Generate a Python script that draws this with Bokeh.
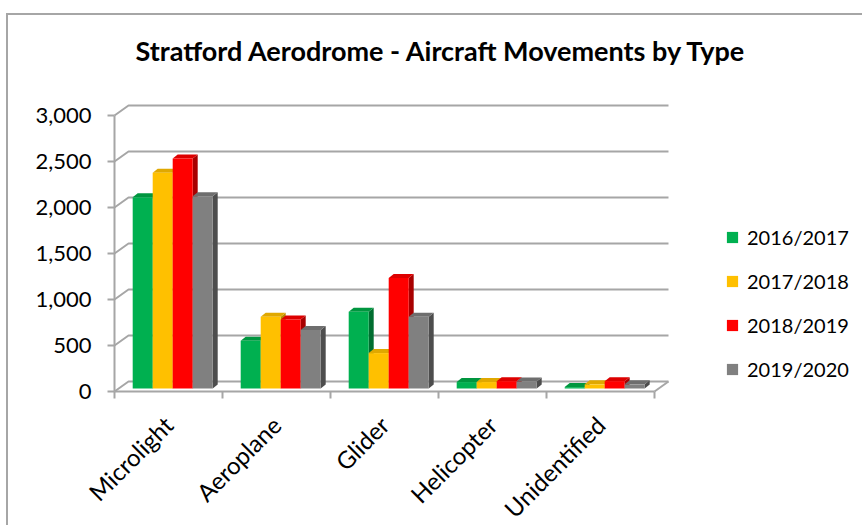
import math
from bokeh.plotting import figure
from bokeh.models import (Range1d, FixedTicker, NumeralTickFormatter, Legend,
                          LegendItem, Label, ColumnDataSource)
from bokeh.embed import file_html
from bokeh.resources import INLINE

# ---------------- data ----------------
categories = ["Microlight", "Aeroplane", "Glider", "Helicopter", "Unidentified"]
series_names = ["2016/2017", "2017/2018", "2018/2019", "2019/2020"]
v_2016_2017 = [2080, 520, 835, 70, 15]
v_2017_2018 = [2345, 780, 385, 70, 45]
v_2018_2019 = [2500, 750, 1200, 80, 80]
v_2019_2020 = [2090, 635, 780, 75, 45]
series_values = [v_2016_2017, v_2017_2018, v_2018_2019, v_2019_2020]
y_ticks = [0, 500, 1000, 1500, 2000, 2500, 3000]
title_text = "Stratford Aerodrome - Aircraft Movements by Type"

# ---------------- styles ----------------
front_colors = ["#00B050", "#FFC000", "#FF0000", "#808080"]
top_colors = ["#00963F", "#E0A800", "#DD0000", "#6E6E6E"]
side_colors = ["#006E30", "#B88A00", "#A80000", "#4D4D4D"]
grid_color = "#A6A6A6"
FONT = "Lato"

W, H = 856, 512
ZERO_X, ZERO_Y = 106, 376             # canvas px of the plot origin
PX_CAT = 108.0                        # px per category
PX_UNIT = 0.092                       # px per movement
WALL_DX_PX, WALL_DY_PX = 14.0, 10.0
DX = WALL_DX_PX / PX_CAT
DY = WALL_DY_PX / PX_UNIT
X_START = -ZERO_X / PX_CAT
X_END = (W - ZERO_X) / PX_CAT
Y_START = -(H - ZERO_Y) / PX_UNIT
Y_END = ZERO_Y / PX_UNIT

p = figure(width=W, height=H, x_range=Range1d(X_START, X_END),
           y_range=Range1d(Y_START, Y_END),
           min_border_left=0, min_border_right=0,
           min_border_top=0, min_border_bottom=0,
           output_backend="svg", toolbar_location=None, outline_line_color=None,
           background_fill_color="white", border_fill_color="white")
p.margin = (13, 0, 0, 6)
p.styles = {"border-top": "2px solid #A6A6A6", "border-left": "2px solid #A6A6A6"}
p.xgrid.visible = False
p.ygrid.visible = False

ncat = len(categories)
# ---- walls / grid ----
gx, gy = [], []
for t in y_ticks:
    gx.append([0, DX, ncat + DX])
    gy.append([t, t + DY, t + DY])
gx.append([ncat, ncat + DX])
gy.append([0, DY])
p.multi_line(gx, gy, line_color=grid_color, line_width=2)

# ---- 3D bars ----
nser = len(series_names)
BW = 20.0 / PX_CAT
G0 = (1 - nser * BW) / 2
FX, FY = 0.3 * DX, 0.3 * DY
BDX, BDY = 5.0 / PX_CAT, 4.0 / PX_UNIT
legend_items = []
for s in range(nser):
    vals = series_values[s]
    x0 = [c + G0 + s * BW + FX for c in range(ncat)]
    x1 = [x + BW for x in x0]
    top = [v + FY for v in vals]
    side_xs = [[a, a + BDX, a + BDX, a] for a in x1]
    side_ys = [[FY, FY + BDY, t + BDY, t] for t in top]
    top_xs = [[a, a + BDX, b + BDX, b] for a, b in zip(x0, x1)]
    top_ys = [[t, t + BDY, t + BDY, t] for t in top]
    p.patches(side_xs, side_ys, fill_color=side_colors[s], line_color=None)
    p.patches(top_xs, top_ys, fill_color=top_colors[s], line_color=None)
    src = ColumnDataSource(dict(x=[(a + b) / 2 for a, b in zip(x0, x1)], top=top,
                                bottom=[FY] * ncat))
    r = p.vbar(x="x", top="top", bottom="bottom", width=BW, source=src,
               fill_color=front_colors[s], line_color=None)
    legend_items.append(LegendItem(label=series_names[s], renderers=[r]))

# ---- axes ----
yax = p.yaxis[0]
yax.ticker = FixedTicker(ticks=y_ticks)
yax.formatter = NumeralTickFormatter(format="0,0")
yax.bounds = (0, 3000)
yax.fixed_location = 0
yax.axis_line_color = grid_color
yax.axis_line_width = 2
yax.major_tick_line_color = grid_color
yax.major_tick_line_width = 2
yax.major_tick_in = 0
yax.major_tick_out = 7
yax.minor_tick_line_color = None
yax.major_label_standoff = 16
yax.major_label_text_font = FONT
yax.major_label_text_font_size = "22px"
yax.major_label_text_color = "black"

xax = p.xaxis[0]
centers = [c + 0.5 for c in range(ncat)]
xax.ticker = FixedTicker(ticks=centers, minor_ticks=list(range(ncat + 1)))
xax.major_label_overrides = {c: lab for c, lab in zip(centers, categories)}
xax.bounds = (0, ncat)
xax.fixed_location = 0
xax.axis_line_color = grid_color
xax.axis_line_width = 2
xax.major_tick_line_color = None
xax.major_tick_out = 0
xax.major_tick_in = 0
xax.minor_tick_line_color = grid_color
xax.minor_tick_line_width = 2
xax.minor_tick_in = 0
xax.minor_tick_out = 7
xax.major_label_orientation = math.pi / 4
xax.major_label_standoff = 22
xax.major_label_text_font = FONT
xax.major_label_text_font_size = "24px"
xax.major_label_text_color = "black"

# ---- legend ----
leg = Legend(items=legend_items, location=(717, 7 + H - ZERO_Y),
             orientation="vertical",
             glyph_width=14, glyph_height=14, label_height=30, spacing=14,
             label_standoff=8, padding=0, margin=0, border_line_color=None,
             background_fill_alpha=0, label_text_font=FONT,
             label_text_font_size="20px", label_text_color="black")
p.add_layout(leg, "center")

# ---- title ----
tx = (433 - ZERO_X) / PX_CAT
ty = (ZERO_Y - 35) / PX_UNIT
p.add_layout(Label(x=tx, y=ty, text=title_text, text_align="center",
                   text_baseline="middle", text_font=FONT, text_font_style="bold",
                   text_font_size="27px", text_color="black"))

open("out.html", "w").write(file_html(p, INLINE))
